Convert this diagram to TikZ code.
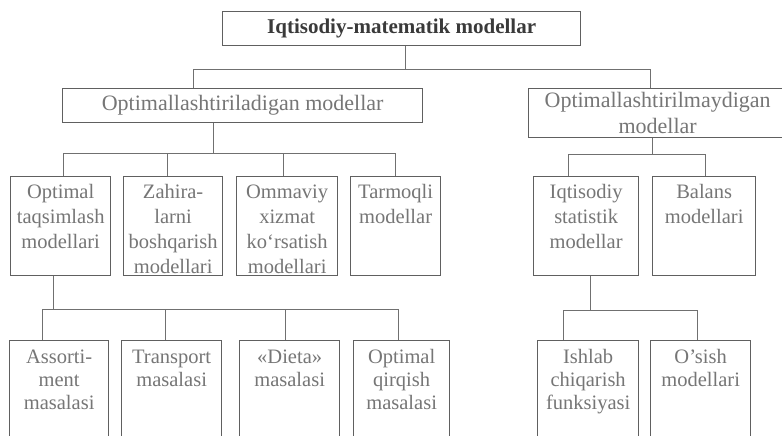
\documentclass[tikz,border=0pt]{standalone}
\usepackage{fontspec}
\setmainfont{Liberation Serif}
\definecolor{linec}{RGB}{112,112,112}
\definecolor{boxc}{RGB}{96,96,96}
\definecolor{txtc}{RGB}{118,118,118}
\definecolor{titc}{RGB}{58,58,58}
\newcommand{\rowfont}{\fontsize{20.5}{25}\selectfont}
\newcommand{\lowfont}{\fontsize{20.5}{23}\selectfont}
\newcommand{\topfont}{\fontsize{22}{27}\selectfont}
\newcommand{\cb}[4]{\parbox[t][#2][t]{#1}{\centering\vspace*{#3}\strut #4}}
\tikzset{
  cell/.style={draw=boxc, line width=1.3pt, inner sep=0pt, anchor=north west, text=txtc, font=\rowfont},
  lowcell/.style={cell, font=\lowfont},
  topcell/.style={draw=boxc, line width=1.3pt, inner sep=0pt, anchor=north west, text=txtc, font=\topfont, align=center},
  link/.style={draw=linec, line width=1.2pt},
}
\begin{document}
\begin{tikzpicture}[x=1pt,y=-1pt]
\useasboundingbox (0,0) rectangle (782,436);
\fill[white] (0,0) rectangle (782,436);
\clip (0,0) rectangle (782,436);

% level 0
\node[topcell, minimum width=358, minimum height=34, text=titc, font=\fontsize{21}{25}\selectfont\bfseries] (title) at (222,11) {Iqtisodiy-matematik modellar};

% level 1
\node[topcell, minimum width=360, minimum height=34] (L1a) at (62,88) {Optimallashtiriladigan modellar};
\node[topcell, minimum width=258, minimum height=49] (L1b) at (528,88) {Optimallashtirilmaydigan\\[-1pt]modellar};

% level 2
\node[cell] (b1) at (10,176)  {\cb{100pt}{99pt}{4.5pt}{Optimal\\taqsimlash\\modellari}};
\node[cell] (b2) at (123,176) {\cb{99pt}{99pt}{4.5pt}{Zahira-\\larni\\boshqarish\\modellari}};
\node[cell] (b3) at (236,176) {\cb{101pt}{99pt}{4.5pt}{Ommaviy\\xizmat\\ko‘rsatish\\modellari}};
\node[cell] (b4) at (350,176) {\cb{90pt}{99pt}{4.5pt}{Tarmoqli\\modellar}};
\node[cell] (b5) at (533,176) {\cb{105pt}{99pt}{4.5pt}{Iqtisodiy\\statistik\\modellar}};
\node[cell] (b6) at (652,176) {\cb{103pt}{99pt}{4.5pt}{Balans\\modellari}};

% level 3
\node[lowcell] (c1) at (9,340)   {\cb{99pt}{120pt}{7pt}{Assorti-\\ment\\masalasi}};
\node[lowcell] (c2) at (121,340) {\cb{100pt}{120pt}{7pt}{Transport\\masalasi}};
\node[lowcell] (c3) at (239,340) {\cb{100pt}{120pt}{7pt}{«Dieta»\\masalasi}};
\node[lowcell] (c4) at (353,340) {\cb{96pt}{120pt}{7pt}{Optimal\\qirqish\\masalasi}};
\node[lowcell] (c5) at (537,340) {\cb{101pt}{120pt}{7pt}{Ishlab\\chiqarish\\funksiyasi}};
\node[lowcell] (c6) at (650,340) {\cb{100pt}{120pt}{7pt}{O’sish\\modellari}};

% connectors level 0 -> 1
\draw[link] ([xshift=4]title.south) -- ++(0,23) coordinate (bus0);
\coordinate (t1) at ([xshift=-49]L1a.north);
\coordinate (t2) at ([xshift=-7]L1b.north);
\draw[link] (t1) |- (t2 |- bus0) -- (t2);

% level 1 -> 2 (left)
\draw[link] ([xshift=-29]L1a.south) -- ++(0,30) coordinate (bus1);
\coordinate (p1) at ([xshift=3]b1.north);
\coordinate (p2) at ([xshift=-5.5]b2.north);
\coordinate (p3) at ([xshift=-3.5]b3.north);
\coordinate (p4) at (b4.north);
\draw[link] (p1) |- (p4 |- bus1) -- (p4);
\draw[link] (p2) -- (p2 |- bus1);
\draw[link] (p3) -- (p3 |- bus1);

% level 1 -> 2 (right)
\draw[link] ([xshift=-5]L1b.south) -- ++(0,16) coordinate (bus2);
\coordinate (p5) at ([xshift=-17.5]b5.north);
\coordinate (p6) at ([xshift=1.5]b6.north);
\draw[link] (p5) |- (p6 |- bus2) -- (p6);

% level 2 -> 3 (left)
\draw[link] ([xshift=-7]b1.south) -- ++(0,33) coordinate (bus3);
\coordinate (q1) at ([xshift=-16.5]c1.north);
\coordinate (q2) at ([xshift=-6]c2.north);
\coordinate (q3) at ([xshift=-4]c3.north);
\coordinate (q4) at ([xshift=-3]c4.north);
\draw[link] (q1) |- (q4 |- bus3) -- (q4);
\draw[link] (q2) -- (q2 |- bus3);
\draw[link] (q3) -- (q3 |- bus3);

% level 2 -> 3 (right)
\draw[link] ([xshift=4.5]b5.south) -- ++(0,34) coordinate (bus4);
\coordinate (q5) at ([xshift=-24.5]c5.north);
\coordinate (q6) at ([xshift=-3]c6.north);
\draw[link] (q5) |- (q6 |- bus4) -- (q6);
\end{tikzpicture}
\end{document}
